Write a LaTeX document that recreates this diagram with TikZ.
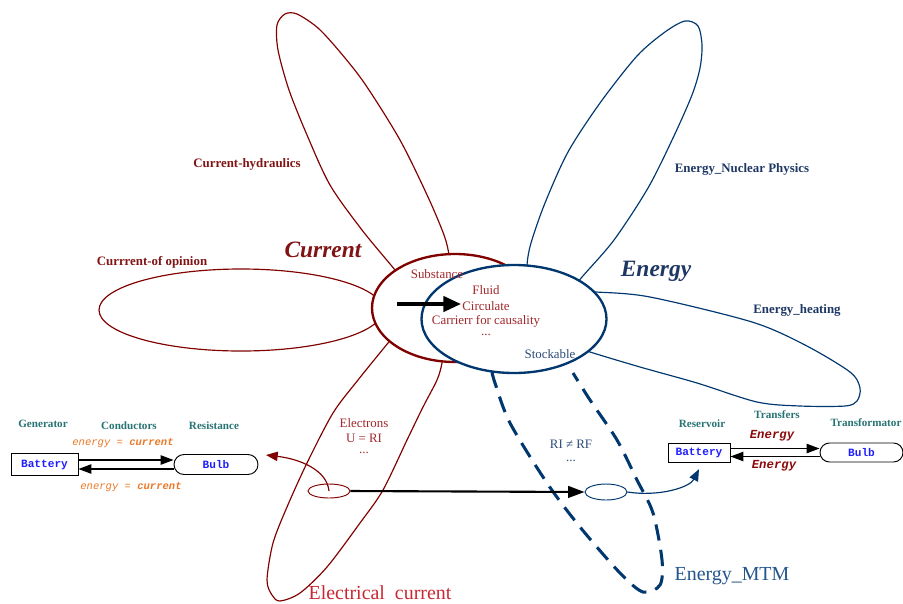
\documentclass[tikz,border=0pt]{standalone}
\usepackage{fontspec}
\setmainfont{Liberation Serif}
\setmonofont{Liberation Mono}
\usetikzlibrary{shapes.geometric,shapes.misc,arrows.meta}
\definecolor{curline}{RGB}{128,0,0}
\definecolor{curtext}{RGB}{128,20,20}
\definecolor{innertext}{RGB}{160,40,45}
\definecolor{elecred}{RGB}{200,40,50}
\definecolor{enline}{RGB}{0,55,110}
\definecolor{entext}{RGB}{30,55,100}
\definecolor{softblue}{RGB}{45,75,120}
\definecolor{mtmblue}{RGB}{35,85,140}
\definecolor{teal}{RGB}{40,115,115}
\definecolor{orangetxt}{RGB}{235,120,40}
\definecolor{monoblue}{RGB}{30,30,255}
\definecolor{monored}{RGB}{140,10,10}
\begin{document}
\begin{tikzpicture}[x=0.03cm,y=-0.03cm]
    \useasboundingbox (0,0) rectangle (903,603);
    \tikzstyle{petal}=[curline, line width=1pt]
    \tikzstyle{bluepetal}=[enline, line width=1pt]
    \tikzstyle{hub}=[ellipse, fill=white, line width=2pt, inner sep=0pt, minimum height=3.24cm]
    \tikzstyle{word}=[inner sep=1pt, font=\fontsize{11}{13}\selectfont]
    \tikzstyle{petallabel}=[inner sep=1pt, font=\fontsize{11}{13}\selectfont\bfseries]
    \tikzstyle{bigname}=[inner sep=1pt, font=\fontsize{20}{24}\selectfont\bfseries\itshape]
    \tikzstyle{part}=[inner sep=1pt, text=teal, font=\fontsize{9.5}{11}\selectfont\bfseries]
    \tikzstyle{battery}=[draw=black, line width=0.8pt, inner sep=0pt, text=monoblue, font=\fontsize{9.5}{11}\selectfont\ttfamily\bfseries]
    \tikzstyle{bulb}=[rounded rectangle, draw=black, line width=0.8pt, inner sep=0pt, text=monoblue, font=\fontsize{9.5}{11}\selectfont\ttfamily\bfseries]
    \tikzstyle{wire}=[black, line width=1pt, -{Triangle[length=11pt,width=8pt]}]

    % current side
    \draw[petal] plot[smooth] coordinates {(400,278) (395,270) (362,230) (330,185) (307,135) (289,90) (278,50) (277,25) (285,14) (297,14) (318,28) (340,52) (365,84) (400,140) (428,197) (444,235) (449,255) (450,275)};
    \draw[petal] (241,310) ellipse [x radius=142, y radius=41];
    \draw[petal] plot[smooth] coordinates {(395,335) (388,343) (358,380) (333,413) (307,463) (287,507) (273,543) (267,580) (272,595) (280,601) (300,593) (327,567) (360,523) (383,490) (407,440) (423,407) (437,380) (442,363) (445,340)};
    \node[hub, draw=curline, minimum width=4.98cm] (current) at (455,308) {};

    % energy side
    \draw[bluepetal] plot[smooth] coordinates {(528,285) (527,265) (531,243) (545,203) (568,152) (600,103) (637,56) (665,32) (685,21) (698,26) (702,45) (700,68) (692,95) (673,138) (648,188) (614,240) (582,277) (570,292)};
    \draw[bluepetal] plot[smooth] coordinates {(580,292) (596,292) (650,297) (752,322) (805,345) (850,372) (860,388) (857,401) (845,406) (800,406) (757,402) (697,383) (640,367) (590,352) (580,348)};
    \draw[enline, line width=2.6pt, dash pattern=on 14pt off 8pt] plot[smooth] coordinates {(492,372) (495,383) (510,423) (547,483) (580,527) (620,573) (643,592) (660,585) (662,560) (653,513) (637,480) (617,440) (590,400) (573,373)};
    \node[hub, draw=enline, minimum width=5.55cm] (energy) at (514,319) {};

    \node[bigname, text=curtext] (curname) at (323,250) {Current};
    \node[bigname, text=entext] (enname) at (656,271) {Energy};
    \node[petallabel, text=curtext] (hydro) at (247,164) {Current-hydraulics};
    \node[petallabel, text=curtext] (opinion) at (152,262) {Currrent-of opinion};
    \node[petallabel, text=entext] (nuclear) at (742,169) {Energy\_Nuclear Physics};
    \node[petallabel, text=entext] (heating) at (797,310) {Energy\_heating};

    \node[word, text=innertext] (subst) at (437,274) {Substance};
    \node[word, text=innertext] (fluid) at (486,290) {Fluid};
    \node[word, text=innertext] (circ) at (486,306) {Circulate};
    \node[word, text=innertext] (carrier) at (486,321) {Carrierr for causality};
    \node[word, text=innertext] (dotsA) at (486,335) {...};
    \node[word, text=softblue] (stock) at (550,354) {Stockable};
    \coordinate (flowstart) at (397,304);
    \draw[black, line width=3pt, -{Triangle[length=15pt,width=13pt]}] (flowstart) -- (flowstart -| circ.west);

    \node[word, text=innertext] (electrons) at (364,423) {Electrons};
    \node[word, text=innertext] (ohm) at (364,438) {U = RI};
    \node[word, text=innertext] (dotsB) at (364,453) {...};
    \node[word, text=softblue] (rirf) at (571,444) {RI ≠ RF};
    \node[word, text=softblue] (dotsC) at (571,461) {...};
    \node[inner sep=1pt, text=elecred, font=\fontsize{17}{20}\selectfont] (elec) at (380,593) {Electrical\ \ current};
    \node[inner sep=1pt, text=mtmblue, font=\fontsize{17}{20}\selectfont] (mtm) at (732,576) {Energy\_MTM};

    \node[ellipse, draw=curline, line width=0.8pt, inner sep=0pt, minimum width=1.26cm, minimum height=0.42cm] (ered) at (329,491) {};
    \node[ellipse, draw=enline, line width=0.8pt, inner sep=0pt, minimum width=1.26cm, minimum height=0.48cm] (eblue) at (606,492) {};
    \draw[black, line width=1.8pt, -{Triangle[length=14pt,width=10pt]}] (ered.east) -- (eblue.west);

    % circuit on the left
    \node[battery, minimum width=2.01cm, minimum height=0.66cm] (batL) at (44.5,464.5) {Battery};
    \node[bulb, minimum width=2.52cm, minimum height=0.6cm] (bulbL) at (216,464.5) {Bulb};
    \draw[wire] ([yshift=0.135cm]batL.east) -- ([yshift=0.135cm]bulbL.west);
    \draw[wire] ([yshift=-0.135cm]bulbL.west) -- ([yshift=-0.135cm]batL.east);
    \node[part] (gen) at (43,424) {Generator};
    \node[part] (cond) at (129,426) {Conductors};
    \node[part] (resist) at (214,426) {Resistance};
    \node[inner sep=1pt, text=orangetxt, font=\fontsize{9}{11}\selectfont\ttfamily\itshape] (eqtop) at (123,443) {energy = \textbf{current}};
    \node[inner sep=1pt, text=orangetxt, font=\fontsize{9}{11}\selectfont\ttfamily\itshape] (eqbot) at (131,487) {energy = \textbf{current}};

    % circuit on the right
    \node[battery, minimum width=1.86cm, minimum height=0.57cm] (batR) at (699,452.5) {Battery};
    \node[bulb, minimum width=2.49cm, minimum height=0.57cm] (bulbR) at (861.5,452.5) {Bulb};
    \draw[wire] ([yshift=0.12cm]batR.east) -- ([yshift=0.12cm]bulbR.west);
    \draw[wire] ([yshift=-0.12cm]bulbR.west) -- ([yshift=-0.12cm]batR.east);
    \node[part] (reserv) at (702,424) {Reservoir};
    \node[part] (transf) at (777,415) {Transfers};
    \node[part] (transfo) at (866,423) {Transformator};
    \node[inner sep=1pt, text=monored, font=\fontsize{10.5}{12}\selectfont\ttfamily\bfseries\itshape] (entop) at (772,436) {Energy};
    \node[inner sep=1pt, text=monored, font=\fontsize{10.5}{12}\selectfont\ttfamily\bfseries\itshape] (enbot) at (774,466) {Energy};

    \coordinate (bulbwire) at (266,455);
    \draw[curline, line width=1pt, -{Triangle[length=10pt,width=8pt]}] (ered.center) .. controls (327,470) and (300,459) .. (bulbwire);
    \draw[enline, line width=1pt, -{Triangle[length=10pt,width=8pt]}] (eblue.east) .. controls (660,497) and (690,487) .. ([yshift=-0.2cm]batR.south);
\end{tikzpicture}
\end{document}
